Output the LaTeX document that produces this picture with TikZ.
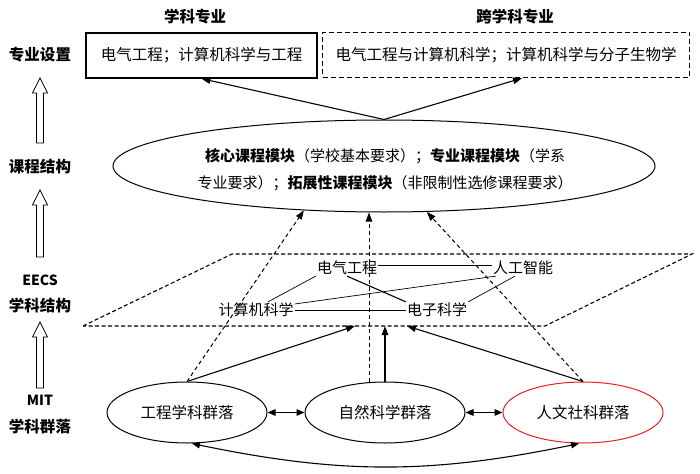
\documentclass[tikz,border=0pt]{standalone}
\usepackage{fontspec}
\setmainfont{Noto Sans CJK SC}
\usetikzlibrary{shapes.geometric,arrows.meta,bending}
\begin{document}
\begin{tikzpicture}[x=1pt,y=-1pt,
  txt/.style={font=\fontsize{15}{18}\selectfont, inner sep=1pt},
  lab/.style={font=\fontsize{15.5}{18}\selectfont\bfseries, inner sep=1pt},
  ell/.style={ellipse, draw, line width=1pt, minimum width=160pt, minimum height=61pt, inner sep=0pt, font=\fontsize{15.5}{18}\selectfont},
  conn/.style={line width=1.1pt},
  dconn/.style={line width=1pt, dash pattern=on 4pt off 3pt},
  mid/.style={line width=0.7pt},
  tip/.style={-{Triangle[length=9pt,width=6.5pt]}},
  dtip/.style={{Triangle[length=8pt,width=6.5pt]}-{Triangle[length=8pt,width=6.5pt]}},
  hollow/.style={line width=0.8pt, fill=white}
]
\useasboundingbox (0,0) rectangle (700,473);

% left labels
\node[lab] (l1) at (40,55) {专业设置};
\node[lab] (l2) at (40,167) {课程结构};
\node[lab, font=\fontsize{14}{18}\selectfont\bfseries] (l3a) at (40,280) {EECS};
\node[lab] (l3b) at (40,306) {学科结构};
\node[lab, font=\fontsize{14}{18}\selectfont\bfseries] (l4a) at (40,400) {MIT};
\node[lab] (l4b) at (40,427) {学科群落};
\foreach \t/\b in {78/143, 190/257, 322/388} {
  \draw[hollow] (40,\t) -- (47.5,\t+15) -- (43.5,\t+15) -- (43.5,\b) -- (36.5,\b) -- (36.5,\t+15) -- (32.5,\t+15) -- cycle;
}

% titles and boxes
\node[lab] (t1) at (195,17) {学科专业};
\node[lab] (t2) at (515,17) {跨学科专业};
\node[txt, font=\fontsize{15.5}{18}\selectfont, draw, line width=1.3pt, minimum width=231pt, minimum height=45pt] (lbox) at (201.5,55.5) {电气工程；计算机科学与工程};
\node[txt, font=\fontsize{15.5}{18}\selectfont, draw, line width=1.3pt, dash pattern=on 5pt off 3pt, minimum width=367pt, minimum height=45pt] (rbox) at (506,55) {电气工程与计算机科学；计算机科学与分子生物学};

% big ellipse
\node[ellipse, draw, line width=1pt, minimum width=542pt, minimum height=92pt, inner sep=0pt] (big) at (384,166) {};
\node[inner sep=0pt, align=center, font=\fontsize{15}{27}\selectfont] (bigtext) at (385,170)
  {\textbf{核心课程模块}（学校基本要求）；\textbf{专业课程模块}（学系\\专业要求）；\textbf{拓展性课程模块}（非限制性选修课程要求）};

% parallelogram
\draw[line width=1.1pt, dash pattern=on 4pt off 2.5pt] (83,326) -- (232,254) -- (692,254) -- (545,326) -- cycle;
\coordinate (p1) at (355,326);
\coordinate (p2) at (385,326);
\coordinate (p3) at (407,326);

% middle nodes
\node[txt] (ee) at (347,268) {电气工程};
\node[txt] (ai) at (523,268) {人工智能};
\node[txt] (cs) at (256,310) {计算机科学};
\node[txt] (es) at (437,310) {电子科学};

\draw[mid] ([yshift=3pt]ee.east) -- ([yshift=3pt]ai.west);
\draw[mid] (ee.south west) -- ([xshift=12pt]cs.north);
\draw[mid] ([yshift=6pt]cs.east) -- ([xshift=4pt]ai.south west);
\draw[mid] (cs.east) -- (es.west);
\draw[line width=1.1pt] (ee.south) -- (es.north west);
\draw[mid] ([xshift=-8pt]ai.south) -- (es.north east);

% bottom ellipses
\node[ell] (eng) at (187,412.5) {工程学科群落};
\node[ell] (nat) at (385,412.5) {自然科学群落};
\node[ell, draw={rgb,255:red,232;green,30;blue,36}] (hum) at (583,412.5) {人文社科群落};

% connectors
\draw[conn,tip] (big.north) -- (lbox.south);
\draw[conn,tip] (big.north) -- ([xshift=16pt]rbox.south);
\draw[dconn,tip] (eng.north) -- (big.209);
\draw[dconn,tip] ([xshift=-16pt]nat.north) -- ([xshift=-15pt]big.south);
\draw[dconn,tip] (hum.north) -- (big.313);
\draw[conn,tip] (eng.north) -- (p1);
\draw[conn,tip] (nat.north) -- (p2);
\draw[conn,tip] (hum.north) -- (p3);
\draw[line width=1.4pt,dtip] (eng) -- (nat);
\draw[line width=1.4pt,dtip] (nat) -- (hum);
\draw[conn,dtip] ([xshift=5pt]eng.south) to[bend right=12] ([xshift=-4pt]hum.south);
\end{tikzpicture}
\end{document}
